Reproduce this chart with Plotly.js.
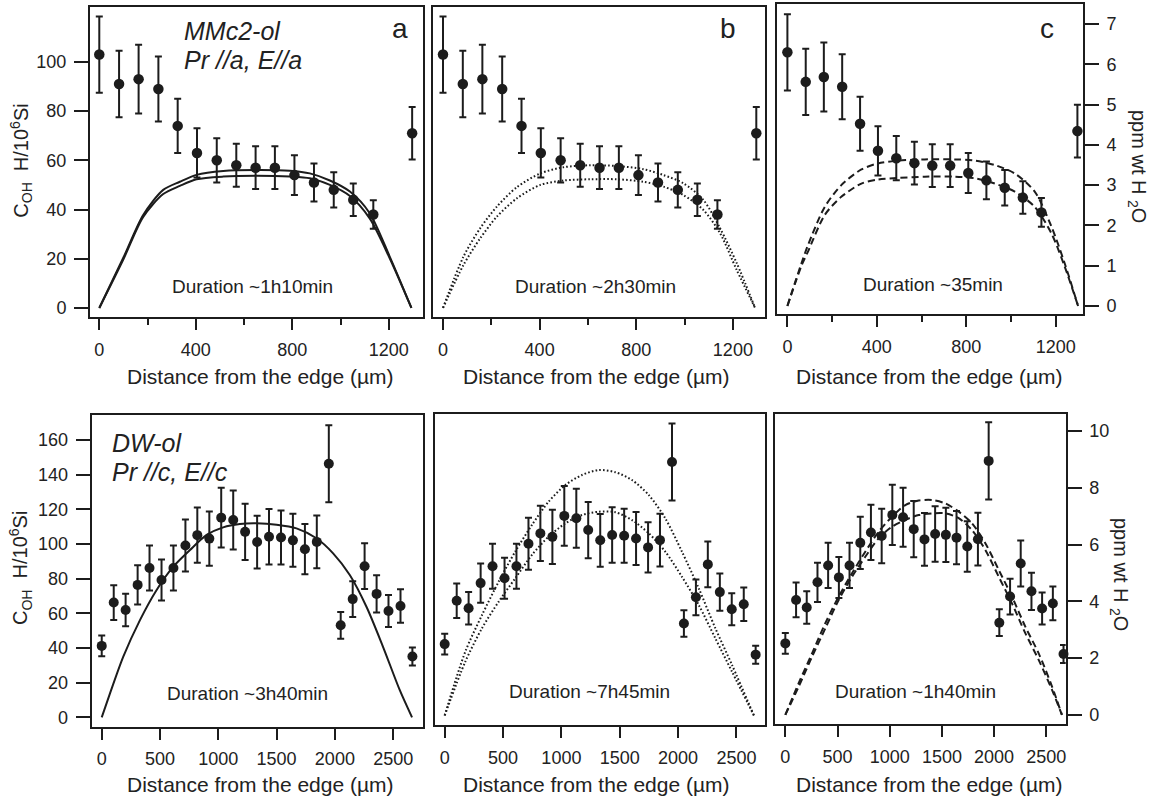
<!DOCTYPE html>
<html><head><meta charset="utf-8">
<script src="https://cdn.plot.ly/plotly-3.0.1.min.js"></script>
<style>html,body{margin:0;padding:0;background:#fff}#chart{width:1151px;height:798px}</style>
</head><body><div id="chart"></div><script>
// ---------- data ----------
const F = 16.35; // H/10^6Si per ppm wt H2O (right-hand axes)

// MMc2-ol (top row), same profile in a, b, c
const topX   = [0, 82, 163, 245, 325, 405, 487, 568, 648, 728, 809, 890, 972, 1053, 1136, 1297];
const topC   = [103, 91, 93, 89, 74, 63, 60, 58, 57, 57, 54, 51, 48, 44, 38, 71];
const topErr = [15.5, 13.5, 14, 13.2, 11, 10, 9, 8.7, 8.7, 8.7, 8.1, 7.7, 7.2, 6.6, 5.8, 10.7];

// DW-ol (bottom row)
const botX   = [0, 103, 205, 308, 410, 513, 615, 718, 820, 923, 1025, 1128, 1230, 1333, 1435, 1538, 1640, 1743, 1845, 1948, 2050, 2153, 2255, 2358, 2460, 2563, 2665];
const botC   = [41.2, 66.2, 61.9, 76.4, 86.1, 79.2, 86.1, 99.1, 105.1, 103.1, 115.2, 113.8, 107, 101.1, 104.2, 103.7, 102.1, 97, 101.2, 146.3, 53.1, 68.2, 87.2, 71.2, 61.3, 64.2, 35.1];
const botErr = [6, 10, 9.4, 11.3, 13, 11.8, 13, 15, 15.9, 15.7, 17.3, 17, 16.2, 15.2, 16, 15.6, 15.3, 14.5, 15.2, 22.2, 7.7, 10.3, 13.2, 10.7, 9.2, 9.7, 5.2];

// model curves, panel a (solid)
const aCurveX  = [0, 100, 182, 265, 334, 403, 514, 652, 790, 873, 956, 1039, 1121, 1204, 1294];
const aCurveHi = [0, 20.5, 37.8, 48, 51.3, 54.1, 55.7, 56.1, 55.8, 54.7, 51.8, 47.3, 38.5, 20.9, 0];
const aCurveLo = [0, 19.8, 37, 46.3, 49.6, 52.3, 53.4, 53.7, 53.4, 52.7, 50, 45.5, 36.4, 20.2, 0];
// panel b (dotted)
const bCurveX  = [0, 85, 154, 223, 306, 403, 499, 609, 720, 830, 913, 995, 1078, 1147, 1216, 1292];
const bCurveHi = [0, 20.9, 32.4, 41.2, 49.1, 54.7, 57.2, 58, 57.7, 56.4, 54, 50.7, 43.9, 32.4, 18.2, 0];
const bCurveLo = [0, 17.5, 28.3, 37.1, 44.6, 50, 51.8, 52.3, 52.3, 51.3, 49.3, 45.9, 39.8, 30.4, 15.4, 0];
// panel c (dashed), ppm wt H2O
const cCurveX  = [0, 63, 92, 167, 241, 331, 405, 495, 614, 748, 838, 927, 1017, 1106, 1181, 1240, 1300];
const cCurveHi = [0, 1.06, 1.51, 2.46, 3.0, 3.39, 3.54, 3.61, 3.64, 3.64, 3.61, 3.50, 3.29, 2.84, 1.97, 1.06, 0];
const cCurveLo = [0, 1.0, 1.35, 2.26, 2.71, 3.04, 3.14, 3.18, 3.21, 3.21, 3.17, 3.04, 2.84, 2.46, 1.80, 0.98, 0];
// bottom panel a (solid)
const dCurveX  = [0, 71, 185, 328, 471, 614, 757, 900, 1042, 1185, 1328, 1500, 1671, 1842, 1985, 2128, 2271, 2413, 2556, 2662];
const dCurveY  = [0, 13.8, 35, 56.1, 73.5, 86.9, 96.5, 105.2, 109.6, 111.5, 111.9, 111.1, 109, 103.3, 94.6, 82.1, 63.8, 40.7, 15.8, 0];
// bottom panel b (dotted)
const eCurveX  = [0, 177, 320, 463, 605, 748, 891, 1034, 1177, 1320, 1462, 1605, 1748, 1890, 2033, 2177, 2319, 2462, 2650];
const eCurveHi = [0, 36.9, 58, 77.3, 94.6, 110, 123.4, 133, 138.8, 141.7, 140.4, 135.9, 127.3, 113.8, 94.6, 73.4, 50.4, 29.2, 0];
const eCurveLo = [0, 31.1, 50.4, 65.7, 79.2, 92.7, 103.2, 110.9, 115.7, 117.6, 117.3, 112.8, 105.2, 94.6, 80.1, 63.8, 44.6, 25.3, 0];
// bottom panel c (dashed), ppm wt H2O
const fCurveX  = [0, 128, 256, 383, 511, 639, 766, 894, 1022, 1149, 1278, 1405, 1533, 1661, 1788, 1916, 2044, 2171, 2299, 2427, 2555, 2650];
const fCurveHi = [0, 1.12, 2.17, 3.23, 4.17, 4.99, 5.75, 6.45, 6.98, 7.39, 7.55, 7.57, 7.45, 7.16, 6.75, 6.05, 5.11, 4.17, 3.11, 2.17, 1.00, 0];
const fCurveLo = [0, 1.00, 2.05, 3.05, 4.05, 4.87, 5.57, 6.22, 6.63, 6.87, 7.04, 7.10, 7.10, 6.93, 6.51, 5.81, 4.87, 3.93, 2.88, 1.94, 0.88, 0];

const topYTicks = [0, 20, 40, 60, 80, 100];
const topPpmTicks = [0, 1, 2, 3, 4, 5, 6, 7];
const botYTicks = [0, 20, 40, 60, 80, 100, 120, 140, 160];
const botPpmTicks = [0, 2, 4, 6, 8, 10];
const topXTicks = [0, 400, 800, 1200];
const botXTicks = [0, 500, 1000, 1500, 2000, 2500];

// ---------- drawing ----------
const W = 1151, H = 798;
const INK = '#1c1c1c', TXT = '#222';
const FONT = 'Liberation Sans, Arial, Helvetica, sans-serif';
const px = (x) => x / W, py = (y) => 1 - y / H;

function pts(x, y, err, xa, ya, size) {
  return {x: x, y: y, xaxis: xa, yaxis: ya, type: 'scatter', mode: 'markers', cliponaxis: false,
    marker: {color: INK, size: size},
    error_y: {type: 'data', array: err, visible: true, color: INK, thickness: 2, width: 3.5},
    hoverinfo: 'skip', showlegend: false};
}
function curve(x, y, xa, ya, dash) {
  return {x: x, y: y, xaxis: xa, yaxis: ya, type: 'scatter', mode: 'lines',
    line: {color: INK, width: 2, dash: dash, shape: 'spline', smoothing: 0.8},
    hoverinfo: 'skip', showlegend: false};
}
const toPpm = (arr) => arr.map(v => v / F);
const DOT = '1.6px,2.2px', DASH = '7px,4px';

const traces = [
  curve(aCurveX, aCurveHi, 'x', 'y', 'solid'),
  curve(aCurveX, aCurveLo, 'x', 'y', 'solid'),
  pts(topX, topC, topErr, 'x', 'y', 10.5),
  curve(bCurveX, bCurveHi, 'x2', 'y2', DOT),
  curve(bCurveX, bCurveLo, 'x2', 'y2', DOT),
  pts(topX, topC, topErr, 'x2', 'y2', 10.5),
  curve(cCurveX, cCurveHi, 'x3', 'y3', DASH),
  curve(cCurveX, cCurveLo, 'x3', 'y3', DASH),
  pts(topX, toPpm(topC), toPpm(topErr), 'x3', 'y3', 10.5),
  curve(dCurveX, dCurveY, 'x4', 'y4', 'solid'),
  pts(botX, botC, botErr, 'x4', 'y4', 10),
  curve(eCurveX, eCurveHi, 'x5', 'y5', DOT),
  curve(eCurveX, eCurveLo, 'x5', 'y5', DOT),
  pts(botX, botC, botErr, 'x5', 'y5', 10),
  curve(fCurveX, fCurveHi, 'x6', 'y6', DASH),
  curve(fCurveX, fCurveLo, 'x6', 'y6', DASH),
  pts(botX, toPpm(botC), toPpm(botErr), 'x6', 'y6', 10)
];

const base = {showline: true, mirror: true, linecolor: INK, linewidth: 2, ticks: 'outside', tickcolor: INK,
  tickwidth: 2, showgrid: false, zeroline: false, fixedrange: true,
  tickfont: {family: FONT, size: 18, color: TXT}};
function xax(d0, d1, range, tickvals, anchor, minor) {
  const a = Object.assign({}, base, {domain: [px(d0), px(d1)], range: range, tickmode: 'array', tickvals: tickvals,
    ticklen: 11, anchor: anchor, ticklabelstandoff: 4});
  if (minor) a.minor = {dtick: minor, tick0: 0, ticklen: 6, tickwidth: 2, tickcolor: INK, ticks: 'outside', showgrid: false};
  return a;
}
function yax(t0, t1, range, tickvals, anchor, side) {
  const a = Object.assign({}, base, {domain: [py(t1), py(t0)], range: range, anchor: anchor, ticklen: 14, ticklabelstandoff: 4});
  if (tickvals) { a.tickmode = 'array'; a.tickvals = tickvals; a.side = side; }
  else { a.ticks = ''; a.showticklabels = false; }
  return a;
}

function ann(text, x, y, size, opts) {
  return Object.assign({text: text, x: px(x), y: py(y), xref: 'paper', yref: 'paper', showarrow: false,
    xanchor: 'center', yanchor: 'middle', font: {family: FONT, size: size, color: TXT}}, opts || {});
}
const XT = 'Distance from the edge (\u00b5m)';
const YT = 'C<sub>OH</sub>  H/10<sup>6</sup>Si';
const RT = 'ppm wt H <sub>2</sub>O';

const layout = {
  width: W, height: H, margin: {l: 0, r: 0, t: 0, b: 0}, paper_bgcolor: '#fff', plot_bgcolor: '#fff',
  showlegend: false,
  xaxis:  xax(90, 423, [-38.5, 1342], topXTicks, 'y', 200),
  xaxis2: xax(433, 765, [-41.4, 1333], topXTicks, 'y2', 200),
  xaxis3: xax(777, 1083, [-46.5, 1322], topXTicks, 'y3', 200),
  xaxis4: xax(91.7, 423, [-86, 2756], botXTicks, 'y4', null),
  xaxis5: xax(435, 765, [-83, 2745], botXTicks, 'y5', null),
  xaxis6: xax(775, 1065.7, [-99, 2686], botXTicks, 'y6', null),
  yaxis:  yax(7.3, 317.3, [-3.8, 122.2], topYTicks, 'x', 'left'),
  yaxis2: yax(7.3, 317.3, [-3.8, 122.2], null, 'x2'),
  yaxis3: yax(4, 314, [-0.2, 7.5], topPpmTicks, 'x3', 'right'),
  yaxis4: yax(415, 726.7, [-5.4, 174.4], botYTicks, 'x4', 'left'),
  yaxis5: yax(414, 725, [-5.5, 174], null, 'x5'),
  yaxis6: yax(414, 724.3, [-0.33, 10.6], botPpmTicks, 'x6', 'right'),
  annotations: [
    ann(XT, 260.5, 377, 21), ann(XT, 596.7, 377, 21), ann(XT, 929, 377, 21),
    ann(XT, 260.5, 784, 21), ann(XT, 596.7, 784, 21), ann(XT, 929, 784, 21),
    ann(YT, 21.7, 161, 20, {textangle: -90}),
    ann(YT, 20, 568, 20, {textangle: -90}),
    ann(RT, 1138, 166, 20, {textangle: 90}),
    ann(RT, 1120, 574, 20, {textangle: 90}),
    ann('<i>MMc2-ol</i>', 181.7, 31, 25, {xanchor: 'left'}),
    ann('<i>Pr //a, E//a</i>', 181.7, 60, 25, {xanchor: 'left'}),
    ann('<i>DW-ol</i>', 110, 443, 25, {xanchor: 'left'}),
    ann('<i>Pr //c, E//c</i>', 110, 472, 25, {xanchor: 'left'}),
    ann('a', 400.5, 29, 28), ann('b', 728, 28, 28), ann('c', 1046.5, 29, 28),
    ann('Duration ~1h10min', 252, 286, 19),
    ann('Duration ~2h30min', 595.5, 286, 19),
    ann('Duration ~35min', 932.5, 284, 19),
    ann('Duration ~3h40min', 247, 693, 19),
    ann('Duration ~7h45min', 589.5, 691, 19),
    ann('Duration ~1h40min', 915.5, 691, 19)
  ]
};

Plotly.newPlot('chart', traces, layout, {staticPlot: true, displayModeBar: false});
</script></body></html>
